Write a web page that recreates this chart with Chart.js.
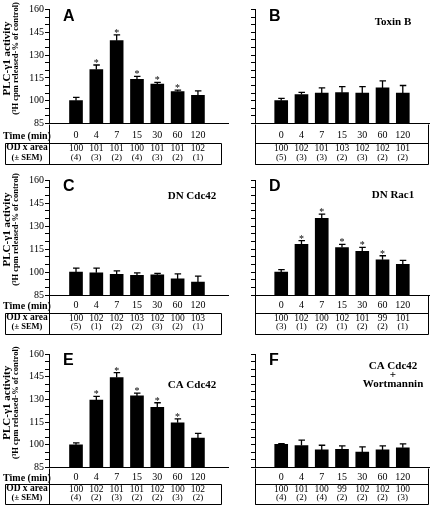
<!DOCTYPE html>
<html>
<head>
<meta charset="utf-8">
<script src="https://cdn.jsdelivr.net/npm/chart.js@4/dist/chart.umd.min.js"></script>
<style>
  body { margin: 0; background: #fff; }
  #fig { position: relative; width: 432px; height: 510px; background: #fff; }
  canvas { position: absolute; }
</style>
</head>
<body>
<div id="fig">
  <canvas id="panelA" width="232" height="170" style="left:0;top:0"></canvas>
  <canvas id="panelB" width="200" height="170" style="left:232px;top:0"></canvas>
  <canvas id="panelC" width="232" height="170" style="left:0;top:170px"></canvas>
  <canvas id="panelD" width="200" height="170" style="left:232px;top:170px"></canvas>
  <canvas id="panelE" width="232" height="170" style="left:0;top:340px"></canvas>
  <canvas id="panelF" width="200" height="170" style="left:232px;top:340px"></canvas>
</div>
<script>
// Time points (min)
const times = ['0', '4', '7', '15', '30', '60', '120'];

// PLC-γ1 activity (% of control) and SEM for each panel
const valuesA = [100, 120.5, 139.5, 114, 111, 106, 103.5];
const errorsA = [2.2, 3, 3.8, 2, 1, 1, 3];
const valuesB = [100, 104, 105, 105.3, 105, 108.4, 105];
const errorsB = [1.5, 1.5, 3.5, 4, 4.3, 4.6, 5];
const valuesC = [100, 99.5, 98.5, 97.8, 98.2, 95.5, 93.5];
const errorsC = [2.5, 3, 2.2, 1.6, 0.9, 3.3, 3.8];
const valuesD = [100, 118, 135, 116, 113.5, 108, 105];
const errorsD = [1.5, 2.5, 2.8, 2, 2.5, 2.6, 2.6];
const valuesE = [100, 129.5, 144.5, 132.3, 124.8, 114.5, 104.5];
const errorsE = [1.3, 2.5, 3.2, 1.8, 3, 2.6, 3];
const valuesF = [100.3, 99.5, 96.6, 97, 95.2, 96.6, 98];
const errorsF = [0.4, 3.6, 3.1, 2.3, 3.4, 2.7, 2.6];

// Significance marks (*)
const sigA = [false, true, true, true, true, true, false];
const sigB = [false, false, false, false, false, false, false];
const sigC = [false, false, false, false, false, false, false];
const sigD = [false, true, true, true, true, true, false];
const sigE = [false, true, true, true, true, true, false];
const sigF = [false, false, false, false, false, false, false];

// OD x area and (n) rows of the tables
const odA = ['100', '101', '101', '100', '101', '101', '102'];
const nA = ['(4)', '(3)', '(2)', '(4)', '(3)', '(2)', '(1)'];
const odB = ['100', '102', '101', '103', '102', '102', '101'];
const nB = ['(5)', '(3)', '(3)', '(2)', '(3)', '(2)', '(2)'];
const odC = ['100', '102', '102', '103', '102', '100', '103'];
const nC = ['(5)', '(1)', '(2)', '(2)', '(3)', '(2)', '(1)'];
const odD = ['100', '102', '100', '102', '101', '99', '101'];
const nD = ['(3)', '(1)', '(2)', '(1)', '(2)', '(2)', '(1)'];
const odE = ['100', '102', '101', '101', '102', '100', '102'];
const nE = ['(4)', '(2)', '(3)', '(2)', '(2)', '(3)', '(2)'];
const odF = ['100', '101', '100', '99', '102', '102', '100'];
const nF = ['(4)', '(2)', '(4)', '(2)', '(2)', '(2)', '(3)'];

// Y axis range and ticks
const yMin = 85;
const yMax = 160;
const yStep = 5;
const yLabelStep = 15;

const SERIF = '"Liberation Serif", "Times New Roman", serif';
const SANS = '"Liberation Sans", Arial, sans-serif';

// Plugin: error bars, asterisks, letters, titles, table below the axis
const decorPlugin = {
  id: 'decor',
  afterDatasetsDraw(chart, args, opts) {
    const ctx = chart.ctx;
    const xs = chart.scales.x;
    const ys = chart.scales.y;
    ctx.save();
    ctx.strokeStyle = '#000';
    ctx.fillStyle = '#000';
    ctx.lineWidth = 1.3;
    opts.values.forEach((v, i) => {
      const px = xs.getPixelForValue(i);
      const top = ys.getPixelForValue(v + opts.errors[i]);
      const base = ys.getPixelForValue(v);
      ctx.beginPath();
      ctx.moveTo(px, base);
      ctx.lineTo(px, top);
      ctx.moveTo(px - 3, top);
      ctx.lineTo(px + 3.5, top);
      ctx.stroke();
      if (opts.sig[i]) {
        ctx.font = '10px ' + SERIF;
        ctx.textAlign = 'center';
        ctx.textBaseline = 'alphabetic';
        ctx.fillText('*', px, top + 1);
      }
    });
    ctx.restore();
  },
  afterDraw(chart, args, opts) {
    const ctx = chart.ctx;
    const area = chart.chartArea;
    const xs = chart.scales.x;
    const t = opts.table;
    const b = Math.round(area.bottom) + 0.5;
    const l = Math.round(area.left) + 0.5;
    const isLeft = opts.side === 'left';
    const boxL = isLeft ? 5.5 : l;
    const boxR = isLeft ? Math.round(area.right) - 6.5 : Math.round(area.right) - 0.5;
    const lineY = b + Math.round(t.line);
    const botY = b + Math.round(t.bottom);

    ctx.save();
    ctx.strokeStyle = '#000';
    ctx.lineWidth = 1;
    ctx.beginPath();
    // axis continues down through the table
    ctx.moveTo(l, b);
    ctx.lineTo(l, botY);
    ctx.moveTo(boxL, lineY);
    ctx.lineTo(boxR, lineY);
    ctx.moveTo(boxL, botY);
    ctx.lineTo(boxR, botY);
    ctx.moveTo(boxL, lineY);
    ctx.lineTo(boxL, botY);
    ctx.moveTo(boxR, isLeft ? lineY : b);
    ctx.lineTo(boxR, botY);
    ctx.stroke();

    ctx.fillStyle = '#000';
    ctx.textAlign = 'center';
    ctx.textBaseline = 'middle';
    opts.od.forEach((s, i) => {
      const px = xs.getPixelForValue(i);
      ctx.font = '9.5px ' + SERIF;
      ctx.fillText(s, px, b + t.od);
      ctx.font = '9px ' + SERIF;
      ctx.fillText(opts.n[i], px, b + t.n);
    });

    if (isLeft) {
      ctx.font = 'bold 10px ' + SERIF;
      ctx.fillText('Time (min)', 27, b + t.time);
      ctx.font = 'bold 9.5px ' + SERIF;
      ctx.fillText('OD x area', 27, b + t.od);
      ctx.font = 'bold 8.5px ' + SERIF;
      ctx.fillText('(\u00b1 SEM)', 27, b + t.n);

      // y axis title, two rotated lines
      const cy = (area.top + area.bottom) / 2 - 8;
      ctx.save();
      ctx.translate(7, cy);
      ctx.rotate(-Math.PI / 2);
      ctx.font = 'bold 11px ' + SERIF;
      ctx.fillText('PLC-\u03b31 activity', 0, 0);
      ctx.restore();
      ctx.save();
      ctx.translate(16, cy);
      ctx.rotate(-Math.PI / 2);
      ctx.font = 'bold 8.5px ' + SERIF;
      ctx.fillText('(\u00b3H cpm released-% of control)', 0, 0);
      ctx.restore();
    }

    // panel letter
    ctx.textAlign = 'left';
    ctx.textBaseline = 'alphabetic';
    ctx.font = 'bold 16px ' + SANS;
    ctx.fillText(opts.letter, area.left + 14, area.top + 11);

    // panel title
    ctx.textAlign = 'center';
    ctx.font = 'bold 11px ' + SERIF;
    opts.title.forEach((s, k) => {
      ctx.fillText(s, area.right - 36, area.top + opts.titleY[k]);
    });
    ctx.restore();
  }
};

// Rows: chart area top/bottom inside each 170px canvas, and table offsets below the axis
const rows = [
  { top: 9.5, bottom: 123.5, table: { time: 11.5, line: 19, od: 23.5, n: 33, bottom: 40 } },
  { top: 10, bottom: 125, table: { time: 10.5, line: 18, od: 22.5, n: 31.5, bottom: 39 } },
  { top: 14, bottom: 127.5, table: { time: 9.5, line: 16, od: 20.5, n: 29.5, bottom: 36 } }
];

function makePanel(id, side, row, letter, values, errors, sig, od, n, title, titleY) {
  const isLeft = side === 'left';
  const r = rows[row];
  const xMin = isLeft ? -0.7 : -0.68;
  const xMax = isLeft ? 6.85 : 6.68;
  new Chart(document.getElementById(id), {
    type: 'bar',
    data: {
      datasets: [{
        data: values.map((v, i) => ({ x: i, y: v })),
        backgroundColor: '#000',
        borderWidth: 0,
        barThickness: 13
      }]
    },
    options: {
      responsive: false,
      animation: false,
      layout: {
        padding: { top: r.top, bottom: 170 - r.bottom - 40, left: 0, right: isLeft ? 4 : 3 }
      },
      plugins: {
        legend: { display: false },
        tooltip: { enabled: false },
        decor: { side, letter, values, errors, sig, od, n, title, titleY, table: r.table }
      },
      scales: {
        x: {
          type: 'linear',
          min: xMin,
          max: xMax,
          afterBuildTicks: s => { s.ticks = times.map((t, i) => ({ value: i })); },
          afterFit: s => { s.height = 40; },
          ticks: {
            autoSkip: false,
            maxRotation: 0,
            padding: r.table.time - 6,
            color: '#000',
            font: { family: SERIF, size: 10 },
            callback: v => times[v]
          },
          grid: { drawOnChartArea: false, drawTicks: false },
          border: { color: '#000', width: 1 }
        },
        y: {
          min: yMin,
          max: yMax,
          afterFit: s => { s.width = isLeft ? 49 : 23; },
          ticks: {
            stepSize: yStep,
            maxTicksLimit: 40,
            autoSkip: false,
            padding: 1,
            color: '#000',
            font: { family: SERIF, size: 10 },
            callback: v => (isLeft && (v - yMin) % yLabelStep === 0) ? v : ''
          },
          grid: { drawOnChartArea: false, tickLength: 4, tickColor: '#000', color: '#000' },
          border: { color: '#000', width: 1 }
        }
      }
    },
    plugins: [decorPlugin]
  });
}

makePanel('panelA', 'left', 0, 'A', valuesA, errorsA, sigA, odA, nA, [], []);
makePanel('panelB', 'right', 0, 'B', valuesB, errorsB, sigB, odB, nB, ['Toxin B'], [15]);
makePanel('panelC', 'left', 1, 'C', valuesC, errorsC, sigC, odC, nC, ['DN Cdc42'], [19]);
makePanel('panelD', 'right', 1, 'D', valuesD, errorsD, sigD, odD, nD, ['DN Rac1'], [18]);
makePanel('panelE', 'left', 2, 'E', valuesE, errorsE, sigE, odE, nE, ['CA Cdc42'], [33.5]);
makePanel('panelF', 'right', 2, 'F', valuesF, errorsF, sigF, odF, nF, ['CA Cdc42', '+', 'Wortmannin'], [15, 24, 33]);
</script>
</body>
</html>
